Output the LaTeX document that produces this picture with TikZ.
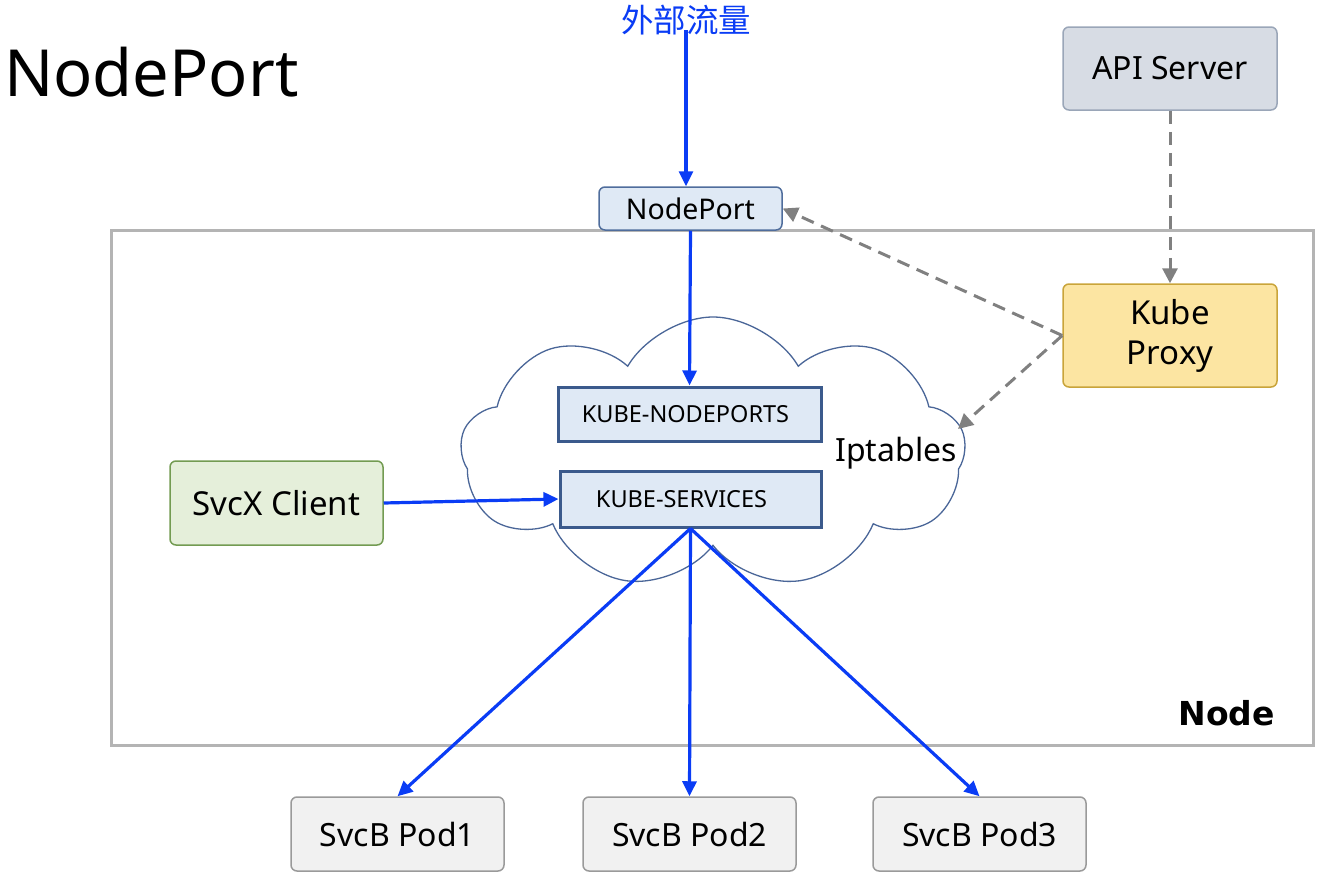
\documentclass[tikz,border=0pt]{standalone}
\usepackage{fontspec}
\setmainfont{Noto Sans}
\newfontfamily\cjk{Noto Sans CJK SC}
\newfontfamily\heavy{DejaVu Sans}
\usetikzlibrary{shapes.symbols,arrows.meta}
\definecolor{flowblue}{HTML}{0A3CF5}
\definecolor{dashgrey}{HTML}{808080}
\definecolor{framegrey}{HTML}{B4B4B4}
\definecolor{apifill}{HTML}{D7DCE4}
\definecolor{apidraw}{HTML}{9AA6B8}
\definecolor{proxyfill}{HTML}{FCE5A2}
\definecolor{proxydraw}{HTML}{C9A43A}
\definecolor{lightblue}{HTML}{DFE9F5}
\definecolor{npdraw}{HTML}{4F6D9C}
\definecolor{chaindraw}{HTML}{3B5A8C}
\definecolor{cloudline}{HTML}{4A6698}
\definecolor{greenfill}{HTML}{E5EFDA}
\definecolor{greendraw}{HTML}{739B52}
\definecolor{podfill}{HTML}{F1F1F1}
\definecolor{poddraw}{HTML}{9A9A9A}
\tikzset{
  rbox/.style={draw, rounded corners=6pt, line width=1.5pt, inner sep=0pt, align=center},
  chainbox/.style={draw=chaindraw, fill=lightblue, line width=3pt, inner sep=0pt, font=\fontsize{23.5}{27}\selectfont},
  podbox/.style={rbox, draw=poddraw, fill=podfill, minimum width=213pt, minimum height=74pt, font=\fontsize{32}{36}\selectfont},
  flow/.style={draw=flowblue, line width=3.2pt, -{Triangle[length=15pt,width=14pt]}},
  ctrl/.style={draw=dashgrey, line width=3pt, dash pattern=on 13pt off 8pt, -{Triangle[length=15pt,width=15pt]}}
}
\begin{document}
\begin{tikzpicture}[x=1pt,y=-1pt]
\useasboundingbox (0,0) rectangle (1326,878);
% title
\node[anchor=base west, inner sep=0pt, font=\fontsize{65}{70}\selectfont] (title) at (4,96) {NodePort};
% node frame
\node[draw=framegrey, line width=3pt, minimum width=1202pt, minimum height=515pt, inner sep=0pt] (frame) at (712,487.5) {};
\node[anchor=base east, inner sep=0pt, font=\heavy\bfseries\fontsize{33}{36}\selectfont] (nodelabel) at (1275,725) {Node};
% cloud
\node[cloud, cloud puffs=9, cloud puff arc=120, aspect=1.85, draw=cloudline, line width=1.3pt, fill=white, minimum width=505pt, minimum height=272pt, inner sep=0pt] (cloud) at (713,453) {};
\node[anchor=base, inner sep=0pt, font=\fontsize{32}{36}\selectfont] (ipt) at (896,461) {Iptables};
% boxes
\node[rbox, draw=apidraw, fill=apifill, minimum width=214pt, minimum height=83pt, font=\fontsize{32}{36}\selectfont] (api) at (1170,68.5) {API Server};
\node[rbox, draw=proxydraw, fill=proxyfill, minimum width=214pt, minimum height=103pt, font=\fontsize{33}{40}\selectfont] (proxy) at (1170,335.5) {Kube\\Proxy};
\node[rbox, draw=npdraw, fill=lightblue, minimum width=183pt, minimum height=43pt, font=\fontsize{28.5}{32}\selectfont] (np) at (690.5,208.5) {NodePort};
\node[chainbox, minimum width=263pt, minimum height=54pt] (knp) at (689.5,414) {\hspace*{-8pt}KUBE-NODEPORTS};
\node[chainbox, minimum width=261pt, minimum height=56pt] (ksvc) at (690.5,499) {\hspace*{-18pt}KUBE-SERVICES};
\node[rbox, draw=greendraw, fill=greenfill, minimum width=213pt, minimum height=84pt, font=\fontsize{33}{36}\selectfont] (client) at (276.5,503) {SvcX Client};
\node[podbox] (pod1) at (397.5,834) {SvcB Pod1};
\node[podbox] (pod2) at (689.5,834) {SvcB Pod2};
\node[podbox] (pod3) at (979.5,834) {SvcB Pod3};
\node[text=flowblue, inner sep=0pt, font=\cjk\fontsize{32.5}{36}\selectfont] (ext) at (686,20) {外部流量};
% connectors
\coordinate (extfoot) at (686,30);
\coordinate (iptin) at (958,429);
\draw[flow] (extfoot) -- (np.north -| extfoot);
\draw[flow] (np.south) -- (knp.north);
\draw[flow] (client.east) -- (ksvc.west);
\draw[flow] (ksvc.south) -- (pod1.north);
\draw[flow] (ksvc.south) -- (pod2.north);
\draw[flow] (ksvc.south) -- (pod3.north);
\draw[ctrl] (api.south) -- (proxy.north);
\draw[ctrl] (proxy.west) -- (np.east);
\draw[ctrl] (proxy.west) -- (iptin);
\end{tikzpicture}
\end{document}
